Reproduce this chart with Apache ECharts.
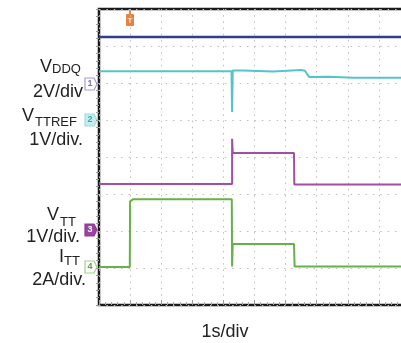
<!DOCTYPE html>
<html><head><meta charset="utf-8">
<script src="https://cdn.jsdelivr.net/npm/echarts@6/dist/echarts.min.js"></script>
<style>html,body{margin:0;padding:0;background:#fff}#c{width:401px;height:343px}</style>
</head><body><div id="c"></div>
<script>
// time in divisions (1 s/div), value in vertical divisions (0 = bottom of screen)
const vddTrace   = [[0, 7.24], [10, 7.24]];
const vddqTrace  = [[0, 6.32], [4.26, 6.32], [4.28, 5.22], [4.30, 6.34], [4.62, 6.34], [4.66, 6.29], [5.6, 6.31], [6.5, 6.35], [6.62, 6.33], [6.76, 6.16], [7.4, 6.17], [8.2, 6.14], [10, 6.14]];
const vttrefTrace = [[0, 3.27], [4.28, 3.27], [4.28, 4.49], [4.30, 4.11], [6.27, 4.11], [6.28, 3.26], [10, 3.26]];
const ittTrace   = [[0, 1.03], [0.99, 1.03], [1.0, 2.80], [1.1, 2.86], [4.27, 2.86], [4.28, 1.04], [4.30, 1.65], [6.27, 1.65], [6.29, 1.04], [10, 1.04]];
const xDivs = [0, 10];
const yDivs = [0, 8];

const chart = echarts.init(document.getElementById('c'));
const txt = (x, y, s, size, align) => ({type: 'text', x: x, y: y,
  style: {text: s, font: size + 'px "Liberation Sans", Arial, sans-serif', fill: '#222', textAlign: align || 'left', textVerticalAlign: 'bottom'}});
function marker(x, y, label, stroke, fill, color) {
  return {type: 'group', x: x, y: y, children: [
    {type: 'polygon', shape: {points: [[0, 0], [9, 0], [12, 6], [9, 12], [0, 12]]}, style: {fill: fill, stroke: stroke, lineWidth: 1.2}},
    {type: 'text', x: 5, y: 6, style: {text: label, font: 'bold 9px "Liberation Sans", Arial, sans-serif', fill: color, textAlign: 'center', textVerticalAlign: 'middle'}}
  ]};
}
const lineSeries = (data, color, w) => ({type: 'line', data: data, showSymbol: false, symbol: 'none', animation: false,
  lineStyle: {color: color, width: w}, z: 3});

chart.setOption({
  animation: false,
  grid: {left: 99, top: 9, width: 311, height: 296, outerBoundsMode: 'none', containLabel: false,
    show: true, borderColor: '#1a1a1a', borderWidth: 2.5, backgroundColor: '#fff'},
  xAxis: {type: 'value', min: xDivs[0], max: xDivs[1], interval: 1,
    axisLine: {show: false}, axisLabel: {show: false},
    axisTick: {show: true, inside: true, length: 5, lineStyle: {color: '#999', width: 1}},
    minorTick: {show: true, splitNumber: 5, length: 3, lineStyle: {color: '#aaa', width: 1}},
    splitLine: {show: true, lineStyle: {color: '#bdbdbd', width: 1, type: [1.5, 4.7]}}},
  yAxis: {type: 'value', min: yDivs[0], max: yDivs[1], interval: 1,
    axisLine: {show: false}, axisLabel: {show: false},
    axisTick: {show: true, inside: false, length: 3, lineStyle: {color: '#999', width: 1}},
    minorTick: {show: true, splitNumber: 5, length: 3, lineStyle: {color: '#999', width: 1}},
    splitLine: {show: true, lineStyle: {color: '#bdbdbd', width: 1, type: [1.5, 5.9]}}},
  series: [
    lineSeries(vddTrace, '#2d3f8e', 2.5),
    lineSeries(vddqTrace, '#55c4c9', 2),
    lineSeries(vttrefTrace, '#a14ea8', 2),
    lineSeries(ittTrace, '#68b04a', 2)
  ],
  graphic: [
    txt(40, 76, 'V', 18), txt(52, 76, 'DDQ', 13),
    txt(83, 101, '2V/div', 18, 'right'),
    txt(22, 125, 'V', 18), txt(35, 129, 'TTREF', 13),
    txt(83, 149, '1V/div.', 18, 'right'),
    txt(47, 224, 'V', 18), txt(60, 229, 'TT', 13),
    txt(80, 246, '1V/div.', 18, 'right'),
    txt(59, 266, 'I', 18), txt(64, 268, 'TT', 13),
    txt(86, 289, '2A/div.', 18, 'right'),
    txt(225, 341, '1s/div', 18, 'center'),
    marker(85, 78, '1', '#a0a0cc', '#fff', '#7a7ab0'),
    marker(85, 114, '2', '#9fdcdf', '#c6ecee', '#3aa9b0'),
    marker(85, 224, '3', '#8e3a96', '#9b42a3', '#fff'),
    marker(85, 261, '4', '#9fd08a', '#fff', '#5fa046'),
    {type: 'group', x: 126, y: 10, children: [
      {type: 'rect', shape: {x: 3, y: 0, width: 2, height: 4}, style: {fill: '#e88a3c'}},
      {type: 'rect', shape: {x: 0, y: 4, width: 8, height: 12, r: 1}, style: {fill: '#e8823a'}},
      {type: 'text', x: 4, y: 10.5, style: {text: 'T', font: 'bold 8px "Liberation Sans", Arial, sans-serif', fill: '#fde3c8', textAlign: 'center', textVerticalAlign: 'middle'}}
    ]}
  ]
});
</script></body></html>
